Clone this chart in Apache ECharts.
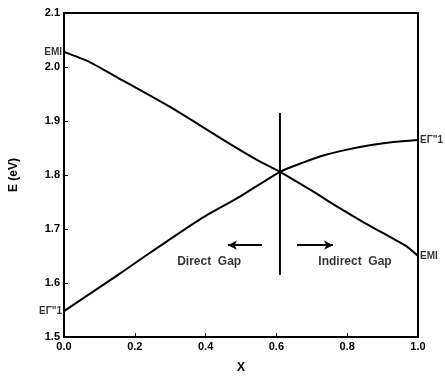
<!DOCTYPE html>
<html>
<head>
<meta charset="utf-8">
<script src="https://cdn.jsdelivr.net/npm/echarts@6/dist/echarts.min.js"></script>
<style>html,body{margin:0;padding:0;background:#fff}#c{width:445px;height:379px}</style>
</head>
<body>
<div id="c"></div>
<script>
// Data
var emiX = [0, 0.07, 0.15, 0.3, 0.45, 0.55, 0.61, 0.7, 0.76, 0.85, 0.93, 0.97, 1.0];
var emiY = [2.028, 2.01, 1.981, 1.926, 1.865, 1.826, 1.806, 1.771, 1.746, 1.711, 1.682, 1.667, 1.65];
var egX = [0, 0.139, 0.243, 0.384, 0.497, 0.61, 0.675, 0.737, 0.80, 0.864, 0.93, 1.0];
var egY = [1.548, 1.609, 1.656, 1.718, 1.76, 1.806, 1.823, 1.837, 1.847, 1.855, 1.861, 1.865];
var dividerX = [0.61, 0.61];
var dividerY = [1.615, 1.915];
var arrowLeft = [[0.559, 1.67], [0.463, 1.67]];
var arrowRight = [[0.658, 1.67], [0.76, 1.67]];
var regionLabels = [["Direct  Gap", 0.41, 1.639], ["Indirect  Gap", 0.822, 1.639]];
var curveLabels = [["EMI", 0, 2.028, "left"], ["EΓ\"1", 0, 1.548, "left"], ["EΓ\"1", 1, 1.865, "right"], ["EMI", 1, 1.65, "right"]];
var xTicks = [0, 0.2, 0.4, 0.6, 0.8, 1.0];
var yTicks = [1.5, 1.6, 1.7, 1.8, 1.9, 2.0, 2.1];

function zip(a, b) { return a.map(function (v, i) { return [v, b[i]]; }); }
var font = "Liberation Sans";
var chart = echarts.init(document.getElementById('c'));
chart.setOption({
  animation: false,
  grid: { left: 64, right: 27, top: 13, bottom: 42, show: true, borderColor: '#000', borderWidth: 2, backgroundColor: 'transparent' },
  xAxis: {
    type: 'value', min: 0, max: 1, interval: 0.2,
    name: 'X', nameLocation: 'middle', nameGap: 25,
    nameTextStyle: { color: '#000', fontSize: 12, fontWeight: 'bold', fontFamily: font },
    axisLine: { lineStyle: { color: '#000', width: 2 } },
    axisTick: { inside: true, length: 4, lineStyle: { color: '#000' } },
    axisLabel: { color: '#000', fontSize: 11, fontWeight: 'bold', fontFamily: font, margin: 4,
      formatter: function (v) { return v.toFixed(1); } },
    splitLine: { show: false }
  },
  yAxis: {
    type: 'value', min: 1.5, max: 2.1, interval: 0.1,
    name: 'E (eV)', nameLocation: 'middle', nameGap: 44, nameRotate: 90,
    nameTextStyle: { color: '#000', fontSize: 12, fontWeight: 'bold', fontFamily: font },
    axisLine: { lineStyle: { color: '#000', width: 2 } },
    axisTick: { inside: true, length: 4, lineStyle: { color: '#000' } },
    axisLabel: { color: '#000', fontSize: 11, fontWeight: 'bold', fontFamily: font, margin: 4,
      formatter: function (v) { return v.toFixed(1); } },
    splitLine: { show: false }
  },
  series: [
    { type: 'line', data: zip(emiX, emiY), smooth: 0.2, symbol: 'none', lineStyle: { color: '#000', width: 2 } },
    { type: 'line', data: zip(egX, egY), smooth: 0.2, symbol: 'none', lineStyle: { color: '#000', width: 2 } },
    { type: 'line', data: zip(dividerX, dividerY), symbol: 'none', lineStyle: { color: '#000', width: 2 },
      markLine: {
        silent: true, symbol: ['none', 'arrow'], symbolSize: [7, 9],
        lineStyle: { color: '#000', width: 2, type: 'solid' }, label: { show: false },
        data: [
          [{ coord: arrowLeft[0] }, { coord: arrowLeft[1] }],
          [{ coord: arrowRight[0] }, { coord: arrowRight[1] }]
        ]
      }
    },
    { type: 'scatter', symbolSize: 0, silent: true,
      itemStyle: { color: '#000' },
      data: regionLabels.map(function (r) { return { value: [r[1], r[2]], name: r[0] }; }),
      label: { show: true, position: 'inside', formatter: '{b}', color: '#000', fontSize: 12, fontWeight: 'bold', fontFamily: font, textBorderWidth: 0 }
    },
    { type: 'scatter', symbolSize: 0, silent: true,
      itemStyle: { color: '#000' },
      data: curveLabels.map(function (r) {
        return { value: [r[1], r[2]], name: r[0], label: { position: r[3], distance: 2 } };
      }),
      label: { show: true, formatter: '{b}', color: '#000', fontSize: 10, fontWeight: 'bold', fontFamily: font, textBorderWidth: 0 }
    }
  ]
});
</script>
</body>
</html>
